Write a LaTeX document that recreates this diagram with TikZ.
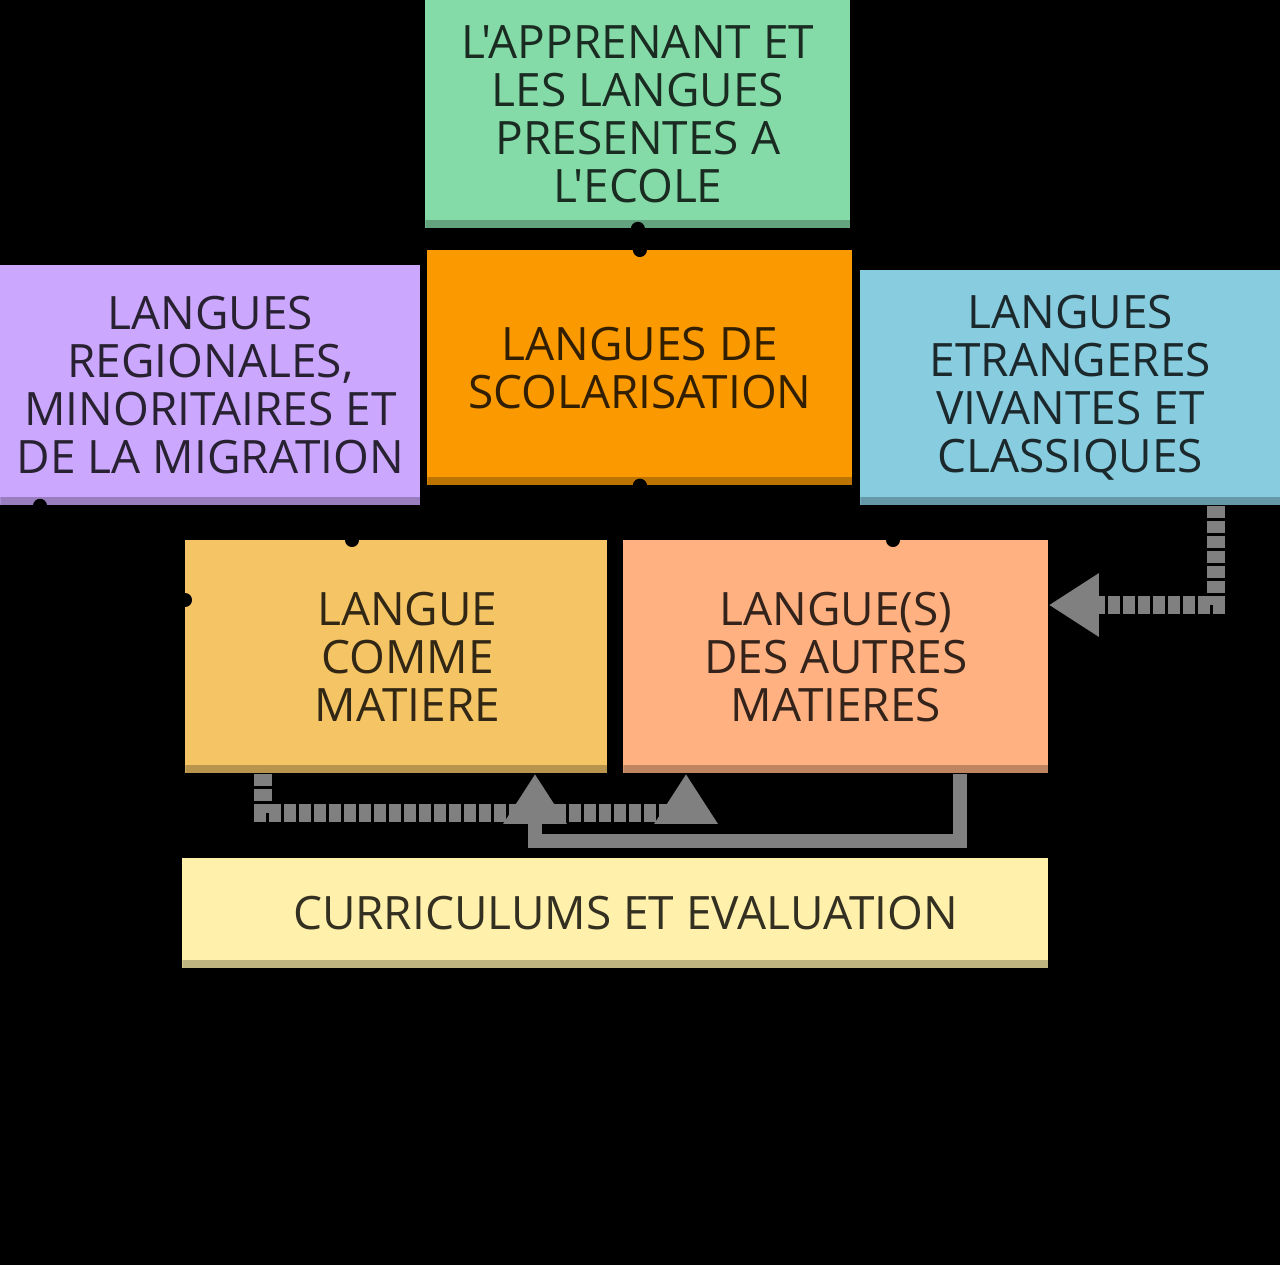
\documentclass[tikz,border=0pt]{standalone}
\usepackage{fontspec}
\newfontfamily\boxfont{Open Sans}
\usetikzlibrary{positioning, arrows.meta, calc}
\definecolor{apprgreen}{HTML}{84DBA8}
\definecolor{scolorange}{HTML}{FA9A00}
\definecolor{regiopurple}{HTML}{CBA8FE}
\definecolor{etrangblue}{HTML}{88CCDF}
\definecolor{matieregold}{HTML}{F5C565}
\definecolor{autrespeach}{HTML}{FFB182}
\definecolor{curricyellow}{HTML}{FFF1AB}
\definecolor{linkgray}{HTML}{808080}

\tikzset{
  langbox/.style={fill=#1, inner sep=0pt, anchor=north west, align=center,
    text=black, text opacity=0.8, font=\boxfont\fontsize{23}{24}\selectfont,
    path picture={\fill[#1!75!black] ([yshift=4pt]path picture bounding box.south west)
      rectangle (path picture bounding box.south east);}},
  linkarrow/.style={draw=linkgray, line width=7pt, -{Triangle[width=30pt,length=25pt]}},
  dashlink/.style={linkarrow, line width=9pt, dash pattern=on 6pt off 1.5pt},
  hiddenlink/.style={draw=black, line width=1pt, {Circle[length=7pt]}-{Circle[length=7pt]},
    shorten <=-3.5pt, shorten >=-3.5pt}
}

\begin{document}
\begin{tikzpicture}[x=0.5pt, y=-0.5pt]
  \fill[black] (0,0) rectangle (1280,1265);
  \useasboundingbox (0,0) rectangle (1280,1265);

  % language boxes
  \node[langbox=apprgreen, minimum width=212.5pt, minimum height=114pt] (appr) at (425,0)
    {L'APPRENANT ET\\LES LANGUES\\PRESENTES A\\L'ECOLE};
  \node[langbox=scolorange, minimum width=212.5pt, minimum height=117.5pt] (scol) at (427,250)
    {LANGUES DE\\SCOLARISATION};
  \node[langbox=regiopurple, minimum width=210pt, minimum height=120pt] (regio) at (0,265)
    {LANGUES\\REGIONALES,\\MINORITAIRES ET\\DE LA MIGRATION};
  \node[langbox=etrangblue, minimum width=210pt, minimum height=117.5pt] (etrang) at (860,270)
    {LANGUES\\ETRANGERES\\VIVANTES ET\\CLASSIQUES};
  \node[langbox=matieregold, minimum width=211pt, minimum height=116.5pt] (matiere) at (185,540)
    {\hspace*{11pt}LANGUE\\\hspace*{11pt}COMME\\\hspace*{11pt}MATIERE};
  \node[langbox=autrespeach, minimum width=212.5pt, minimum height=116.5pt] (autres) at (623,540)
    {LANGUE(S)\\DES AUTRES\\MATIERES};
  \node[langbox=curricyellow, minimum width=433pt, minimum height=55pt] (curric) at (182,858)
    {\hspace*{10pt}CURRICULUMS ET EVALUATION};

  % black links, only their end dots show
  \draw[hiddenlink] (appr.south) -- (scol.north);
  \draw[hiddenlink] (scol.south) -- ++(0,40) -| ($(matiere.north west)+(167,0)$);
  \draw[hiddenlink] (scol.south) -- ++(0,40) -| ($(autres.north west)+(270,0)$);
  \draw[hiddenlink] ($(regio.south west)+(40,0)$) |- ($(matiere.north west)+(0,60)$);

  % grey links
  \draw[dashlink] ($(etrang.south east)+(-65,0)$) |- ($(autres.north east)+(0,65)$);
  \draw[dashlink] ($(matiere.south west)+(78,0)$) -- ++(0,39) -| ($(autres.south west)+(63,0)$);
  \draw[linkarrow] ($(autres.south west)+(337,0)$) -- ++(0,67) -| ($(matiere.south west)+(350,0)$);
\end{tikzpicture}
\end{document}
